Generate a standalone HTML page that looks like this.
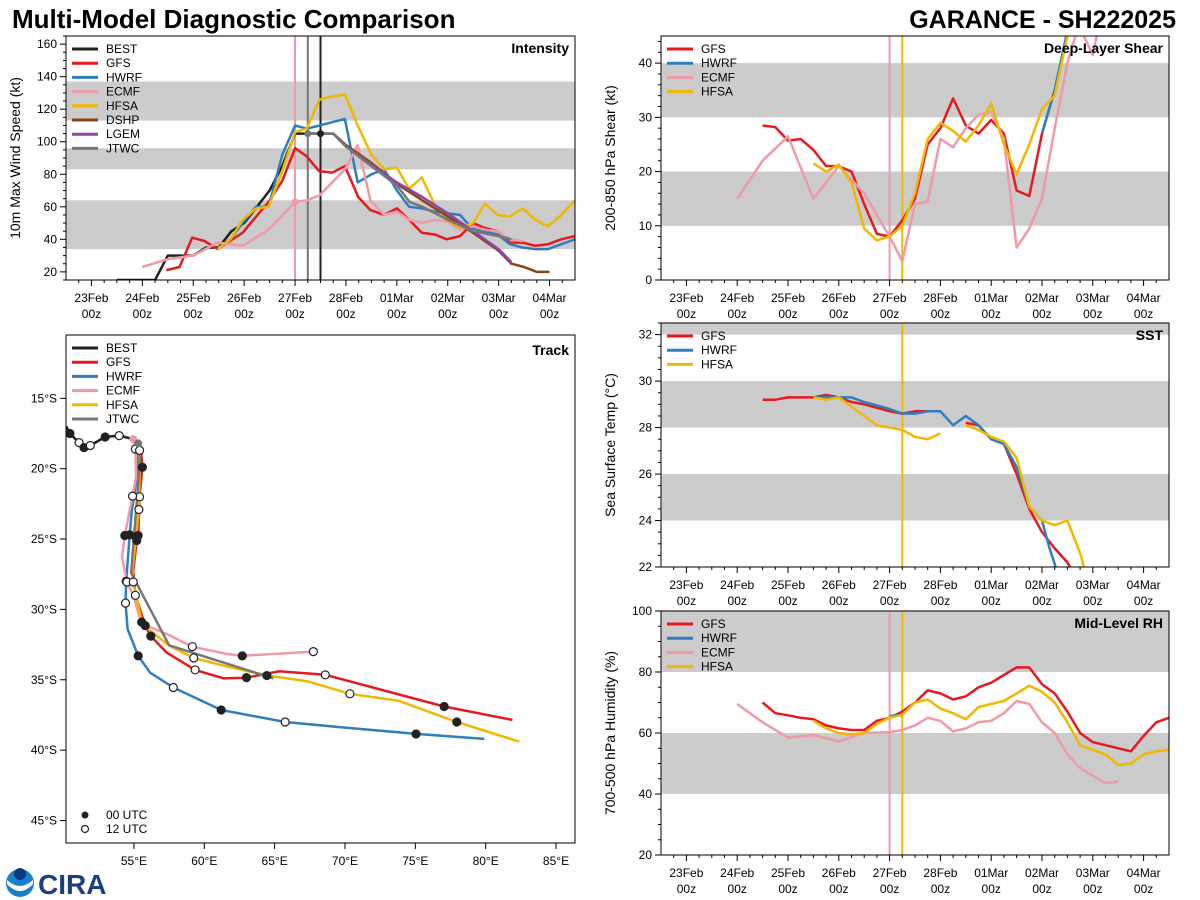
<!DOCTYPE html>
<html><head><meta charset="utf-8">
<style>
html,body{margin:0;padding:0;background:#fff;}
svg{display:block;font-family:"Liberation Sans","DejaVu Sans",sans-serif;}
</style></head>
<body>
<svg id="chart" width="1200" height="900" viewBox="0 0 1200 900" xmlns="http://www.w3.org/2000/svg">
<text x="12" y="28" font-size="26" font-weight="bold" fill="#000">Multi-Model Diagnostic Comparison</text>
<text x="1176" y="28" font-size="25" font-weight="bold" fill="#000" text-anchor="end">GARANCE - SH222025</text>
<g>
<circle cx="20" cy="883" r="14" fill="#1a7fc8"/>
<path d="M7 880 Q20 892 33 880 L33 884 Q20 898 7 884 Z" fill="#fff"/>
<circle cx="20" cy="874" r="6" fill="#0a3a7a"/>
<text x="38" y="894" font-size="28" font-weight="bold" fill="#1d3f80">CIRA</text>
</g>
</svg>
<script>
// ---------- DATA (days since 23Feb 00z) ----------
const dayLabels = ["23Feb","24Feb","25Feb","26Feb","27Feb","28Feb","01Mar","02Mar","03Mar","04Mar"];
const intBands = [[34,64],[83,96],[113,137]];
const intTicks = [20,40,60,80,100,120,140,160];
const bestT = [0.5,1.0,1.25,1.5,2.0,2.25,2.5,2.75,3.0,3.25,3.5,3.75,4.0,4.25,4.5];
const bestV = [15,15,15,30,30,35,35,45,50,60,70,85,105,105,105];
const gfsT = [1.47,1.73,1.98,2.22,2.48,2.72,2.97,3.21,3.48,3.75,4.0,4.23,4.47,4.73,4.98,5.24,5.48,5.75,6.0,6.24,6.49,6.75,6.98,7.24,7.5,7.72,7.98,8.22,8.47,8.72,8.97,9.23,9.5];
const gfsV = [21,23,41,39,34,39,44,53,63,76,96,91,82,81,85,66,58,55,59,52,44,43,40,42,50,47,45,38,38,36,37,40,42];
const hwrfT = [2.5,2.73,2.97,3.23,3.48,3.75,4.0,4.23,4.48,4.73,4.98,5.23,5.5,5.75,6.0,6.24,6.49,6.75,6.98,7.24,7.47,7.72,7.98,8.22,8.47,8.72,8.97,9.23,9.5];
const hwrfV = [35,40,50,60,60,92,110,108,110,112,114,75,80,83,70,60,59,57,56,55,47,45,43,37,35,34,34,37,40];
const ecmfT = [1.0,1.52,2.0,2.48,2.97,3.48,4.0,4.23,4.48,4.73,4.98,5.23,5.48,5.75,6.0,6.24,6.49,6.75,6.98,7.24,7.5,7.72,7.98,8.22,8.47];
const ecmfV = [23,28,30,38,36,46,63,64,67,75,83,98,64,55,57,52,50,52,51,46,48,46,45,40,39];
const hfsaT = [2.48,2.73,2.97,3.23,3.48,3.75,4.0,4.23,4.48,4.73,4.98,5.23,5.5,5.75,6.0,6.24,6.49,6.75,6.98,7.24,7.5,7.73,7.98,8.22,8.47,8.72,8.97,9.23,9.5];
const hfsaV = [34,40,52,59,60,82,106,108,126,128,129,110,92,83,84,71,78,61,52,47,50,62,55,54,59,52,48,55,64];
const dshpT = [4.25,4.75,5.0,5.5,6.0,6.5,7.0,7.5,8.0,8.25,8.5,8.75,9.0];
const dshpV = [105,105,98,87,74,64,54,44,33,25,23,20,20];
const lgemT = [4.25,4.75,5.0,5.5,6.0,6.5,7.0,7.5,8.0,8.25];
const lgemV = [105,105,97,86,75,66,56,45,34,26];
const jtwcT = [4.25,4.75,5.0,5.5,6.0,6.25,6.5,7.0,7.5,8.0,8.25];
const jtwcV = [105,105,97,85,73,63,60,52,45,42,40];

const shearBands = [[10,20],[30,40]];
const shearTicks = [0,10,20,30,40];
const shGfsT = [1.5,1.75,2.0,2.25,2.5,2.75,3.0,3.25,3.5,3.75,4.0,4.25,4.5,4.75,5.0,5.25,5.5,5.75,6.0,6.25,6.5,6.75,7.0,7.25,7.5];
const shGfsV = [28.5,28.2,25.7,26,24,21,21,20,14,8.5,8,11,15,25,28,33.5,28.5,27,29.5,27,16.5,15.5,27,35,45];
const shHwrfT = [7.0,7.25,7.5];
const shHwrfV = [27,35,46];
const shEcmfT = [1.0,1.5,2.0,2.5,3.0,3.5,4.0,4.25,4.5,4.75,5.0,5.25,5.5,5.75,6.0,6.25,6.5,6.75,7.0,7.25,7.5,7.72,8.0,8.1];
const shEcmfV = [15,22,26.5,15,21,16,8,3.5,14,14.5,26,24.5,28,30.5,31,26,6,9.5,15,28,40,47,41.5,46];
const shHfsaT = [2.5,2.75,3.0,3.25,3.5,3.75,4.0,4.25,4.5,4.75,5.0,5.25,5.5,5.75,6.0,6.25,6.5,6.75,7.0,7.25,7.5];
const shHfsaV = [21.5,20,21.3,18,9.5,7.3,8,10,16,26,29,27.5,25.5,28.5,32.5,25,19.5,25,31.5,34,45];

const sstBands = [[24,26],[28,30],[32,33]];
const sstTicks = [22,24,26,28,30,32];
const sstGfsT = [1.5,1.75,2.0,2.5,2.75,3.0,3.25,3.5,4.0,4.25,4.5,4.75,5.0,null,5.5,5.75,6.0,6.25,6.5,6.75,7.0,7.25,7.5,7.6];
const sstGfsV = [29.2,29.2,29.3,29.3,29.4,29.3,29.1,29.0,28.7,28.6,28.7,28.7,28.7,null,28.2,28.1,27.5,27.3,26.0,24.5,23.5,22.8,22.2,21.8];
const sstHwrfT = [2.5,3.0,3.25,3.5,4.0,4.25,4.5,4.75,5.0,5.25,5.5,5.75,6.0,6.25,6.5,6.75,7.0,7.15,7.3];
const sstHwrfV = [29.3,29.3,29.3,29.1,28.8,28.6,28.6,28.7,28.7,28.1,28.5,28.1,27.5,27.3,26.3,24.6,24.0,22.8,21.8];
const sstHfsaT = [2.5,2.75,3.0,3.25,3.5,3.75,4.0,4.25,4.5,4.75,5.0,null,5.5,5.75,6.0,6.25,6.5,6.75,7.0,7.25,7.5,7.75,7.85];
const sstHfsaV = [29.3,29.2,29.3,28.9,28.5,28.1,28.0,27.9,27.6,27.5,27.75,null,28.1,27.9,27.6,27.4,26.7,24.6,24.0,23.8,24.0,22.6,21.8];

const rhBands = [[40,60],[80,100]];
const rhTicks = [20,40,60,80,100];
const rhGfsT = [1.5,1.75,2.0,2.25,2.5,2.75,3.0,3.25,3.5,3.75,4.0,4.25,4.5,4.75,5.0,5.25,5.5,5.75,6.0,6.25,6.5,6.75,7.0,7.25,7.5,7.75,8.0,8.25,8.5,8.75,9.0,9.25,9.5];
const rhGfsV = [70,66.5,65.8,65,64.5,62.5,61.5,61,61,64,65,67,70,74,73,71,72,75,76.5,79,81.5,81.5,76,73,67,60,57,56,55,54,59,63.5,65];
const rhHwrfT = [4.0,4.25];
const rhHwrfV = [65.5,66];
const rhEcmfT = [1.0,1.5,2.0,2.5,3.0,3.5,4.0,4.25,4.5,4.75,5.0,5.25,5.5,5.75,6.0,6.25,6.5,6.75,7.0,7.25,7.5,7.75,8.0,8.25,8.5];
const rhEcmfV = [69.5,63.5,58.5,59.3,57.2,60,60.3,61,62.5,65,64,60.5,61.5,63.5,64,66.5,70.5,69.5,63.5,60,53,48.5,46,43.5,44];
const rhHfsaT = [2.5,2.75,3.0,3.25,3.5,3.75,4.0,4.25,4.5,4.75,5.0,5.25,5.5,5.75,6.0,6.25,6.5,6.75,7.0,7.25,7.5,7.75,8.0,8.25,8.5,8.75,9.0,9.25,9.5];
const rhHfsaV = [64,61.5,60,59.5,60,63,65,66,70,71,68,66.5,64.5,68.5,69.5,70.5,73,75.5,73.5,70,63.5,56,54.5,53,49.5,50,53,54,54.5];

// Track: lon (E), lat (S)
const trkBestLon = [50.2,50.45,51.1,51.45,51.9,52.95,53.95,54.95,55.3];
const trkBestLat = [17.0,17.5,18.15,18.5,18.35,17.75,17.65,17.9,18.2];
const trkBestMk = [0,1,2,1,2,1,2,0,0];
const trkGfsLon = [55.3,55.5,55.6,55.4,55.3,55.2,54.95,55.1,55.8,56.2,57.3,59.35,61.4,63.0,65.3,68.6,77.05,81.9];
const trkGfsLat = [18.2,18.7,19.9,22.0,24.75,25.1,27.25,29.0,31.15,31.9,33.05,34.3,34.9,34.85,34.4,34.65,36.9,37.85];
const trkGfsMk = [0,0,1,2,1,1,0,2,1,1,0,2,0,1,0,2,1,0];
const trkHwrfLon = [55.3,55.3,54.85,54.7,54.45,54.4,54.55,55.3,56.15,57.8,61.2,65.75,70.0,75.05,79.9];
const trkHwrfLat = [18.2,19.9,23.0,24.7,28.0,29.55,31.4,33.3,34.5,35.55,37.15,38.0,38.4,38.85,39.2];
const trkHwrfMk = [0,0,0,1,2,2,0,1,0,2,1,2,0,1,0];
const trkEcmfLon = [54.95,55.1,55.15,54.9,54.35,54.15,54.5,54.95,55.4,55.9,57.55,59.15,61.5,62.7,67.75];
const trkEcmfLat = [17.9,18.6,20.6,21.95,24.75,26.3,28.05,29.0,30.55,31.15,31.85,32.65,33.15,33.3,33.0];
const trkEcmfMk = [0,2,0,2,1,0,2,0,0,0,0,2,0,1,2];
const trkHfsaLon = [55.3,55.4,55.4,55.35,55.15,54.9,54.95,55.55,56.15,57.55,59.25,61.6,64.45,67.3,70.35,73.85,77.95,82.4];
const trkHfsaLat = [18.2,18.7,20.6,22.9,24.85,27.1,28.05,30.9,31.5,32.6,33.45,34.05,34.7,35.1,36.0,36.5,38.0,39.4];
const trkHfsaMk = [0,2,0,2,1,0,2,1,0,0,2,0,1,0,2,0,1,0];
const trkJtwcLon = [55.3,55.45,54.8,57.5,64.9];
const trkJtwcLat = [18.2,19.2,27.4,32.55,34.9];
const lonTicks = [55,60,65,70,75,80,85];
const latTicks = [15,20,25,30,35,40,45];

// ---------- DRAWING ----------
const NS = "http://www.w3.org/2000/svg";
const svg = document.getElementById("chart");
const C = {BEST:"#222222",GFS:"#e8191e",HWRF:"#2f7fbf",ECMF:"#f09aa8",HFSA:"#f0b800",DSHP:"#8b4513",LGEM:"#8e44ad",JTWC:"#777777"};
function el(tag, attrs, parent){const e=document.createElementNS(NS,tag);for(const k in attrs)e.setAttribute(k,attrs[k]);(parent||svg).appendChild(e);return e;}
function txt(x,y,s,attrs,parent){const t=el("text",Object.assign({x:x,y:y,"font-size":12,fill:"#000"},attrs||{}),parent);t.textContent=s;return t;}

function timePanel(name, L, T, W, H, ymin, ymax, bands, ticks, minorStep, ylabel, title, series, vlines){
  const g = el("g",{});
  
  
  const xs = d => L + (d+0.5)/10*W;
  const ys = v => T + H - (v-ymin)/(ymax-ymin)*H;
  for(const b of bands){
    const y1=ys(Math.min(b[1],ymax)), y2=ys(b[0]);
    const r=el("rect",{x:L,y:y1,width:W,height:y2-y1,fill:"#cccccc"},g);
    
    
  }
  const clipId = name+"-clip";
  const cp = el("clipPath",{id:clipId},g); el("rect",{x:L,y:T,width:W,height:H},cp);
  const lg = el("g",{"clip-path":"url(#"+clipId+")"},g);
  for(const v of vlines){
    const ln=el("line",{x1:xs(v[0]),x2:xs(v[0]),y1:T,y2:T+H,stroke:v[1],"stroke-width":2},lg);
    
    
  }
  for(const s of series){
    let d="", pen=false;
    for(let i=0;i<s.t.length;i++){
      if(s.t[i]===null){pen=false;continue;}
      d += (pen?"L":"M")+xs(s.t[i]).toFixed(1)+","+ys(s.v[i]).toFixed(1);
      pen=true;
    }
    const p=el("path",{d:d,fill:"none",stroke:C[s.n],"stroke-width":2.5,"stroke-linejoin":"round"},lg);
    
    
  }
  const fr=el("rect",{x:L,y:T,width:W,height:H,fill:"none",stroke:"#000","stroke-width":1},g);
  
  
  for(let i=0;i<dayLabels.length;i++){
    const x=xs(i);
    el("line",{x1:x,x2:x,y1:T+H,y2:T+H+6,stroke:"#000"},g);
    const a=txt(x,T+H+22,dayLabels[i],{"text-anchor":"middle"},g);
    
    
    txt(x,T+H+38,"00z",{"text-anchor":"middle"},g);
  }
  for(let d=-0.25; d<9.5; d+=0.25){ if(Math.abs(d-Math.round(d))<0.01) continue; const x=xs(d); el("line",{x1:x,x2:x,y1:T+H,y2:T+H+3,stroke:"#000"},g);}
  for(const v of ticks){
    const y=ys(v); el("line",{x1:L-6,x2:L,y1:y,y2:y,stroke:"#000"},g);
    const a=txt(L-9,y+4,String(v),{"text-anchor":"end"},g);
    
    
  }
  for(let v=ymin; v<=ymax; v+=minorStep){ if(ticks.includes(v)) continue; const y=ys(v); el("line",{x1:L-3,x2:L,y1:y,y2:y,stroke:"#000"},g);}
  const yl=txt(0,0,ylabel,{"font-size":14,"text-anchor":"middle",transform:"translate("+(L-46)+","+(T+H/2)+") rotate(-90)"},g);
  
  
  const tt=txt(L+W-6,T+17,title,{"font-size":14,"font-weight":"bold","text-anchor":"end"},g);
  
  
  const names = series.map(s=>s.n).filter((n,i,a)=>a.indexOf(n)===i);
  names.forEach((n,i)=>{
    const y=T+13+i*14.2;
    const lgE=el("g",{},g);
    
    
    el("line",{x1:L+6,x2:L+32,y1:y,y2:y,stroke:C[n],"stroke-width":3},lgE);
    txt(L+40,y+4,n,{},lgE);
  });
  return {xs,ys,g};
}

const P1 = timePanel("intensity",66,36,509,244,15,165,intBands,intTicks,5,"10m Max Wind Speed (kt)","Intensity",[
  {n:"BEST",t:bestT,v:bestV},{n:"GFS",t:gfsT,v:gfsV},{n:"HWRF",t:hwrfT,v:hwrfV},{n:"ECMF",t:ecmfT,v:ecmfV},
  {n:"HFSA",t:hfsaT,v:hfsaV},{n:"DSHP",t:dshpT,v:dshpV},{n:"LGEM",t:lgemT,v:lgemV},{n:"JTWC",t:jtwcT,v:jtwcV}
],[[4.0,C.ECMF],[4.25,C.JTWC],[4.5,C.BEST]]);
el("circle",{cx:P1.xs(4.25),cy:P1.ys(105),r:3.5,fill:C.JTWC},P1.g);
el("circle",{cx:P1.xs(4.5),cy:P1.ys(105),r:3.5,fill:C.BEST},P1.g);
el("circle",{cx:P1.xs(4.0),cy:P1.ys(63),r:3.5,fill:C.ECMF},P1.g);

timePanel("shear",661,36,508,244,0,45,shearBands,shearTicks,2,"200-850 hPa Shear (kt)","Deep-Layer Shear",[
  {n:"GFS",t:shGfsT,v:shGfsV},{n:"HWRF",t:shHwrfT,v:shHwrfV},{n:"ECMF",t:shEcmfT,v:shEcmfV},{n:"HFSA",t:shHfsaT,v:shHfsaV}
],[[4.0,C.ECMF],[4.25,C.HFSA]]);

timePanel("sst",661,323,508,244,22,32.5,sstBands,sstTicks,0.5,"Sea Surface Temp (°C)","SST",[
  {n:"GFS",t:sstGfsT,v:sstGfsV},{n:"HWRF",t:sstHwrfT,v:sstHwrfV},{n:"HFSA",t:sstHfsaT,v:sstHfsaV}
],[[4.25,C.HFSA]]);

timePanel("rh",661,611,508,244,20,100,rhBands,rhTicks,5,"700-500 hPa Humidity (%)","Mid-Level RH",[
  {n:"GFS",t:rhGfsT,v:rhGfsV},{n:"HWRF",t:rhHwrfT,v:rhHwrfV},{n:"ECMF",t:rhEcmfT,v:rhEcmfV},{n:"HFSA",t:rhHfsaT,v:rhHfsaV}
],[[4.0,C.ECMF],[4.25,C.HFSA]]);

(function(){
  const L=66,T=335,W=509,H=508;
  const g=el("g",{});
  
  
  const xs = lon => L + (lon-50.17)/(86.35-50.17)*W;
  const ys = lat => T + (lat-10.5)/(46.6-10.5)*H;
  const cp=el("clipPath",{id:"trk-clip"},g); el("rect",{x:L,y:T,width:W,height:H},cp);
  const lg=el("g",{"clip-path":"url(#trk-clip)"},g);
  const tracks=[["BEST",trkBestLon,trkBestLat,trkBestMk],["GFS",trkGfsLon,trkGfsLat,trkGfsMk],["HWRF",trkHwrfLon,trkHwrfLat,trkHwrfMk],
    ["ECMF",trkEcmfLon,trkEcmfLat,trkEcmfMk],["HFSA",trkHfsaLon,trkHfsaLat,trkHfsaMk],["JTWC",trkJtwcLon,trkJtwcLat,null]];
  for(const tr of tracks){
    const d=tr[1].map((lo,i)=>(i?"L":"M")+xs(lo).toFixed(1)+","+ys(tr[2][i]).toFixed(1)).join("");
    const p=el("path",{d:d,fill:"none",stroke:C[tr[0]],"stroke-width":2.5,"stroke-linejoin":"round"},lg);
    
    
  }
  for(const tr of tracks){
    if(!tr[3]) continue;
    tr[3].forEach((m,i)=>{
      if(!m) return;
      const c=el("circle",{cx:xs(tr[1][i]),cy:ys(tr[2][i]),r:4,fill:m===1?"#222":"#fff",stroke:"#222","stroke-width":1.2},lg);
      
      
    });
  }
  el("circle",{cx:xs(54.95),cy:ys(17.9),r:4,fill:C.ECMF},lg);
  el("circle",{cx:xs(55.3),cy:ys(18.2),r:4,fill:C.JTWC},lg);
  el("rect",{x:L,y:T,width:W,height:H,fill:"none",stroke:"#000"},g);
  for(const lo of lonTicks){const x=xs(lo); el("line",{x1:x,x2:x,y1:T+H,y2:T+H+6,stroke:"#000"},g);
    const a=txt(x,T+H+22,lo+"°E",{"text-anchor":"middle"},g);
    
    }
  for(const la of latTicks){const y=ys(la); el("line",{x1:L-6,x2:L,y1:y,y2:y,stroke:"#000"},g);
    const a=txt(L-9,y+4,la+"°S",{"text-anchor":"end"},g);
    
    }
  const tt=txt(L+W-6,T+20,"Track",{"font-size":14,"font-weight":"bold","text-anchor":"end"},g);
  
  
  ["BEST","GFS","HWRF","ECMF","HFSA","JTWC"].forEach((n,i)=>{
    const y=T+13+i*14.2;
    const e=el("g",{},g);
    
    
    el("line",{x1:L+6,x2:L+32,y1:y,y2:y,stroke:C[n],"stroke-width":3},e);
    txt(L+40,y+4,n,{},e);
  });
  el("circle",{cx:L+19,cy:T+H-28,r:3.5,fill:"#222"},g);
  txt(L+40,T+H-24,"00 UTC",{},g);
  el("circle",{cx:L+19,cy:T+H-14,r:3.5,fill:"#fff",stroke:"#222","stroke-width":1.2},g);
  txt(L+40,T+H-10,"12 UTC",{},g);
})();
</script>
</body></html>
